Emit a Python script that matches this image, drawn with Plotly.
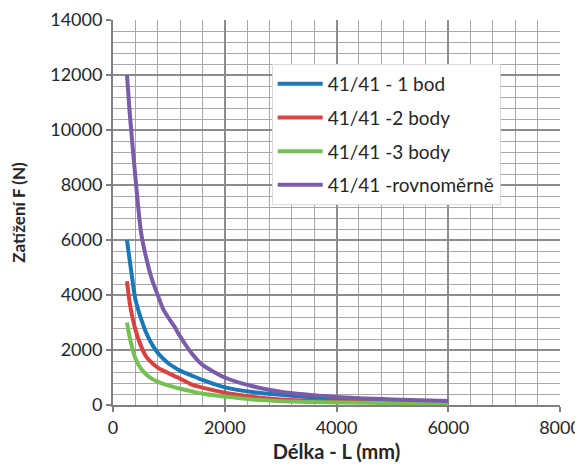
import plotly.graph_objects as go

# délka L (mm)
delka = [250, 300, 400, 500, 600, 700, 800, 900, 1000, 1100, 1200, 1400, 1600,
         2000, 2500, 3000, 4000, 5000, 6000]

# zatížení F (N)
bod1 = [6000, 5250, 3850, 3150, 2600, 2200, 1900, 1680, 1500, 1370, 1250, 1080, 910,
        640, 470, 370, 220, 160, 120]
body2 = [4500, 3700, 2750, 2150, 1740, 1530, 1360, 1250, 1150, 1050, 960, 750, 630,
         450, 300, 200, 130, 100, 80]
body3 = [3000, 2450, 1700, 1320, 1100, 950, 850, 770, 710, 650, 590, 500, 410,
         310, 200, 140, 90, 70, 60]
rovnomerne = [12000, 10600, 8300, 6300, 5300, 4550, 4000, 3480, 3150, 2850, 2500, 1900, 1460,
              1000, 680, 480, 290, 200, 150]

names = ["41/41 - 1 bod", "41/41 -2 body", "41/41 -3 body", "41/41 -rovnoměrně"]
colors = ["#1a78b8", "#d94240", "#74c052", "#7b5ca8"]

fig = go.Figure()
for i, (name, vals, col) in enumerate(zip(names, [bod1, body2, body3, rovnomerne], colors)):
    fig.add_trace(go.Scatter(
        x=delka, y=vals, name=name, mode="lines",
        line=dict(color=col, width=4, shape="spline", smoothing=0.6),
        legendgroup=str(i),
    ))

font_fam = "Lato, Open Sans, sans-serif"
axis_font = dict(family=font_fam, size=18, color="#262626")

common = dict(
    dtick=2000, tickformat="d", tickfont=axis_font,
    showgrid=True, gridcolor="#8c8c8c", gridwidth=1.5,
    minor=dict(dtick=400, showgrid=True, gridcolor="#a8a8a8", gridwidth=1.3),
    showline=True, linecolor="#7f7f7f", linewidth=2,
    ticks="outside", ticklen=5, tickcolor="#7f7f7f", tickwidth=2,
    zeroline=False, automargin=False, ticklabeloverflow="allow",
)

fig.update_xaxes(
    range=[0, 8000], **common,
    title=dict(text="<b>Délka - L (mm)</b>",
               font=dict(family=font_fam, size=20, color="#262626"), standoff=8),
)
fig.update_yaxes(
    range=[0, 14000], **common,
    title=dict(text="<b>Zatížení F (N)</b>",
               font=dict(family=font_fam, size=17, color="#262626"), standoff=20),
)

# the page adds an 8px body margin, so the figure is a bit smaller than the window
fig.update_layout(
    width=575, height=460,
    margin=dict(l=105, r=23, t=12, b=63),
    paper_bgcolor="white", plot_bgcolor="white",
    legend=dict(
        x=0.355, y=0.886, xanchor="left", yanchor="top",
        bgcolor="white", bordercolor="#d9d9d9", borderwidth=1,
        font=dict(family=font_fam, size=19, color="#262626"),
        tracegroupgap=6, traceorder="grouped",
        itemwidth=45,
    ),
)

fig.write_html("out.html")
